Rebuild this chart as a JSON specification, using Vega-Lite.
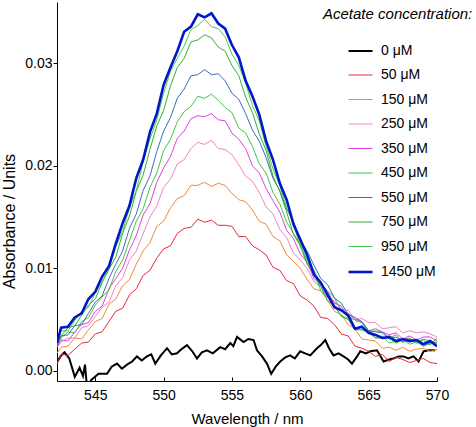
{
"$schema":"https://vega.github.io/schema/vega-lite/v6.json",
"width":380,"height":379,
"autosize":{"type":"none"},
"padding":{"left":57,"top":2,"right":39,"bottom":46},
"background":"white",
"config":{"view":{"stroke":null},"font":"Liberation Sans",
"axis":{"domainColor":"black","tickColor":"black","labelColor":"black","titleColor":"black","labelFont":"Liberation Sans","titleFont":"Liberation Sans","grid":false,"titleFontWeight":"normal"},
"legend":{"titleFont":"Liberation Sans","labelFont":"Liberation Sans","titleColor":"black","labelColor":"black"}},
"datasets":{"spectra":[
{"w":542.2,"s":"0 μM","v":0.0008},{"w":542.45,"s":"0 μM","v":0.0014},{"w":542.75,"s":"0 μM","v":0.0018},{"w":543.1,"s":"0 μM","v":0.0012},{"w":543.5,"s":"0 μM","v":-0.0006},{"w":543.85,"s":"0 μM","v":0.0003},{"w":544.1,"s":"0 μM","v":-0.0005},{"w":544.25,"s":"0 μM","v":0.0006},{"w":544.45,"s":"0 μM","v":-0.0025},{"w":544.7,"s":"0 μM","v":-0.0009},{"w":545.24,"s":"0 μM","v":-0.0003},{"w":545.86,"s":"0 μM","v":-0.0003},{"w":546.2,"s":"0 μM","v":0.0004},{"w":546.59,"s":"0 μM","v":0.0007},{"w":546.95,"s":"0 μM","v":0.0002},{"w":547.32,"s":"0 μM","v":0.0006},{"w":547.7,"s":"0 μM","v":0.0009},{"w":548.05,"s":"0 μM","v":0.0014},{"w":548.4,"s":"0 μM","v":0.001},{"w":548.78,"s":"0 μM","v":0.0014},{"w":549.1,"s":"0 μM","v":0.0016},{"w":549.39,"s":"0 μM","v":0.0007},{"w":549.8,"s":"0 μM","v":0.0015},{"w":550.25,"s":"0 μM","v":0.0022},{"w":550.6,"s":"0 μM","v":0.0016},{"w":550.98,"s":"0 μM","v":0.0017},{"w":551.3,"s":"0 μM","v":0.0021},{"w":551.71,"s":"0 μM","v":0.0025},{"w":552.1,"s":"0 μM","v":0.0019},{"w":552.44,"s":"0 μM","v":0.0012},{"w":552.8,"s":"0 μM","v":0.0018},{"w":553.17,"s":"0 μM","v":0.002},{"w":553.6,"s":"0 μM","v":0.0017},{"w":554.14,"s":"0 μM","v":0.0023},{"w":554.5,"s":"0 μM","v":0.0021},{"w":554.88,"s":"0 μM","v":0.0027},{"w":555.1,"s":"0 μM","v":0.0024},{"w":555.37,"s":"0 μM","v":0.0033},{"w":555.85,"s":"0 μM","v":0.0028},{"w":556.2,"s":"0 μM","v":0.0031},{"w":556.58,"s":"0 μM","v":0.003},{"w":556.83,"s":"0 μM","v":0.002},{"w":557.2,"s":"0 μM","v":0.0014},{"w":557.56,"s":"0 μM","v":0.0007},{"w":557.87,"s":"0 μM","v":-0.0003},{"w":558.2,"s":"0 μM","v":0.0004},{"w":558.53,"s":"0 μM","v":0.0009},{"w":558.9,"s":"0 μM","v":0.0013},{"w":559.26,"s":"0 μM","v":0.0015},{"w":559.6,"s":"0 μM","v":0.0012},{"w":559.99,"s":"0 μM","v":0.0019},{"w":560.35,"s":"0 μM","v":0.0017},{"w":560.73,"s":"0 μM","v":0.0015},{"w":561.22,"s":"0 μM","v":0.0022},{"w":561.5,"s":"0 μM","v":0.0025},{"w":561.83,"s":"0 μM","v":0.003},{"w":562.1,"s":"0 μM","v":0.0022},{"w":562.43,"s":"0 μM","v":0.0015},{"w":562.8,"s":"0 μM","v":0.0017},{"w":563.16,"s":"0 μM","v":0.0014},{"w":563.5,"s":"0 μM","v":0.0011},{"w":563.78,"s":"0 μM","v":0.0007},{"w":564.1,"s":"0 μM","v":0.0013},{"w":564.39,"s":"0 μM","v":0.0019},{"w":564.8,"s":"0 μM","v":0.0017},{"w":565.12,"s":"0 μM","v":0.0019},{"w":565.61,"s":"0 μM","v":0.002},{"w":566.09,"s":"0 μM","v":0.0009},{"w":566.5,"s":"0 μM","v":0.0011},{"w":566.82,"s":"0 μM","v":0.0012},{"w":567.2,"s":"0 μM","v":0.0014},{"w":567.56,"s":"0 μM","v":0.0014},{"w":567.9,"s":"0 μM","v":0.0012},{"w":568.28,"s":"0 μM","v":0.0014},{"w":568.65,"s":"0 μM","v":0.0009},{"w":569.02,"s":"0 μM","v":0.0019},{"w":569.38,"s":"0 μM","v":0.002},{"w":569.87,"s":"0 μM","v":0.002},
{"w":542.2,"s":"50 μM","v":0.0007},{"w":542.5,"s":"50 μM","v":0.0016},{"w":543,"s":"50 μM","v":0.0015},{"w":543.5,"s":"50 μM","v":0.0021},{"w":544,"s":"50 μM","v":0.0027},{"w":544.5,"s":"50 μM","v":0.0028},{"w":545,"s":"50 μM","v":0.0036},{"w":545.5,"s":"50 μM","v":0.0038},{"w":546,"s":"50 μM","v":0.0048},{"w":546.5,"s":"50 μM","v":0.0058},{"w":547,"s":"50 μM","v":0.0061},{"w":547.5,"s":"50 μM","v":0.0074},{"w":548,"s":"50 μM","v":0.008},{"w":548.5,"s":"50 μM","v":0.0093},{"w":549,"s":"50 μM","v":0.0098},{"w":549.5,"s":"50 μM","v":0.011},{"w":550,"s":"50 μM","v":0.0119},{"w":550.5,"s":"50 μM","v":0.0122},{"w":551,"s":"50 μM","v":0.0134},{"w":551.5,"s":"50 μM","v":0.0139},{"w":552,"s":"50 μM","v":0.014},{"w":552.5,"s":"50 μM","v":0.0148},{"w":553,"s":"50 μM","v":0.0145},{"w":553.5,"s":"50 μM","v":0.0147},{"w":554,"s":"50 μM","v":0.0142},{"w":554.5,"s":"50 μM","v":0.0142},{"w":555,"s":"50 μM","v":0.0141},{"w":555.5,"s":"50 μM","v":0.0131},{"w":556,"s":"50 μM","v":0.0131},{"w":556.5,"s":"50 μM","v":0.0122},{"w":557,"s":"50 μM","v":0.0118},{"w":557.5,"s":"50 μM","v":0.0113},{"w":558,"s":"50 μM","v":0.0101},{"w":558.5,"s":"50 μM","v":0.0098},{"w":559,"s":"50 μM","v":0.0088},{"w":559.5,"s":"50 μM","v":0.0085},{"w":560,"s":"50 μM","v":0.0073},{"w":560.5,"s":"50 μM","v":0.0069},{"w":561,"s":"50 μM","v":0.0063},{"w":561.5,"s":"50 μM","v":0.0052},{"w":562,"s":"50 μM","v":0.0051},{"w":562.5,"s":"50 μM","v":0.0045},{"w":563,"s":"50 μM","v":0.0036},{"w":563.5,"s":"50 μM","v":0.0034},{"w":564,"s":"50 μM","v":0.0024},{"w":564.5,"s":"50 μM","v":0.0022},{"w":565,"s":"50 μM","v":0.0019},{"w":565.5,"s":"50 μM","v":0.0014},{"w":566,"s":"50 μM","v":0.0016},{"w":566.5,"s":"50 μM","v":0.0009},{"w":567,"s":"50 μM","v":0.0013},{"w":567.5,"s":"50 μM","v":0.0011},{"w":568,"s":"50 μM","v":0.0008},{"w":568.5,"s":"50 μM","v":0.001},{"w":569,"s":"50 μM","v":0.0012},{"w":569.5,"s":"50 μM","v":0.0008},{"w":570,"s":"50 μM","v":0.0007},
{"w":542.2,"s":"150 μM","v":0.0017},{"w":542.5,"s":"150 μM","v":0.0023},{"w":543,"s":"150 μM","v":0.0024},{"w":543.5,"s":"150 μM","v":0.0032},{"w":544,"s":"150 μM","v":0.0031},{"w":544.5,"s":"150 μM","v":0.004},{"w":545,"s":"150 μM","v":0.0048},{"w":545.5,"s":"150 μM","v":0.0051},{"w":546,"s":"150 μM","v":0.0065},{"w":546.5,"s":"150 μM","v":0.007},{"w":547,"s":"150 μM","v":0.0083},{"w":547.5,"s":"150 μM","v":0.0089},{"w":548,"s":"150 μM","v":0.0104},{"w":548.5,"s":"150 μM","v":0.0117},{"w":549,"s":"150 μM","v":0.0125},{"w":549.5,"s":"150 μM","v":0.0141},{"w":550,"s":"150 μM","v":0.0146},{"w":550.5,"s":"150 μM","v":0.0159},{"w":551,"s":"150 μM","v":0.0168},{"w":551.5,"s":"150 μM","v":0.0171},{"w":552,"s":"150 μM","v":0.0181},{"w":552.5,"s":"150 μM","v":0.0181},{"w":553,"s":"150 μM","v":0.0184},{"w":553.5,"s":"150 μM","v":0.018},{"w":554,"s":"150 μM","v":0.0183},{"w":554.5,"s":"150 μM","v":0.0181},{"w":555,"s":"150 μM","v":0.0173},{"w":555.5,"s":"150 μM","v":0.0167},{"w":556,"s":"150 μM","v":0.0165},{"w":556.5,"s":"150 μM","v":0.0157},{"w":557,"s":"150 μM","v":0.0146},{"w":557.5,"s":"150 μM","v":0.0143},{"w":558,"s":"150 μM","v":0.0131},{"w":558.5,"s":"150 μM","v":0.0127},{"w":559,"s":"150 μM","v":0.0113},{"w":559.5,"s":"150 μM","v":0.0107},{"w":560,"s":"150 μM","v":0.01},{"w":560.5,"s":"150 μM","v":0.0089},{"w":561,"s":"150 μM","v":0.008},{"w":561.5,"s":"150 μM","v":0.0078},{"w":562,"s":"150 μM","v":0.0069},{"w":562.5,"s":"150 μM","v":0.0058},{"w":563,"s":"150 μM","v":0.0055},{"w":563.5,"s":"150 μM","v":0.0045},{"w":564,"s":"150 μM","v":0.0041},{"w":564.5,"s":"150 μM","v":0.0031},{"w":565,"s":"150 μM","v":0.003},{"w":565.5,"s":"150 μM","v":0.0029},{"w":566,"s":"150 μM","v":0.0022},{"w":566.5,"s":"150 μM","v":0.0023},{"w":567,"s":"150 μM","v":0.002},{"w":567.5,"s":"150 μM","v":0.0023},{"w":568,"s":"150 μM","v":0.0019},{"w":568.5,"s":"150 μM","v":0.0021},{"w":569,"s":"150 μM","v":0.0022},{"w":569.5,"s":"150 μM","v":0.0019},{"w":570,"s":"150 μM","v":0.0021},
{"w":542.2,"s":"250 μM","v":0.0023},{"w":542.5,"s":"250 μM","v":0.0028},{"w":543,"s":"250 μM","v":0.0032},{"w":543.5,"s":"250 μM","v":0.0032},{"w":544,"s":"250 μM","v":0.0042},{"w":544.5,"s":"250 μM","v":0.0044},{"w":545,"s":"250 μM","v":0.0053},{"w":545.5,"s":"250 μM","v":0.0062},{"w":546,"s":"250 μM","v":0.0067},{"w":546.5,"s":"250 μM","v":0.0083},{"w":547,"s":"250 μM","v":0.0091},{"w":547.5,"s":"250 μM","v":0.0108},{"w":548,"s":"250 μM","v":0.0117},{"w":548.5,"s":"250 μM","v":0.0134},{"w":549,"s":"250 μM","v":0.015},{"w":549.5,"s":"250 μM","v":0.0161},{"w":550,"s":"250 μM","v":0.0179},{"w":550.5,"s":"250 μM","v":0.0187},{"w":551,"s":"250 μM","v":0.0202},{"w":551.5,"s":"250 μM","v":0.0206},{"w":552,"s":"250 μM","v":0.0217},{"w":552.5,"s":"250 μM","v":0.0223},{"w":553,"s":"250 μM","v":0.0221},{"w":553.5,"s":"250 μM","v":0.0225},{"w":554,"s":"250 μM","v":0.0217},{"w":554.5,"s":"250 μM","v":0.0216},{"w":555,"s":"250 μM","v":0.0211},{"w":555.5,"s":"250 μM","v":0.0201},{"w":556,"s":"250 μM","v":0.019},{"w":556.5,"s":"250 μM","v":0.0185},{"w":557,"s":"250 μM","v":0.0174},{"w":557.5,"s":"250 μM","v":0.016},{"w":558,"s":"250 μM","v":0.0153},{"w":558.5,"s":"250 μM","v":0.0138},{"w":559,"s":"250 μM","v":0.013},{"w":559.5,"s":"250 μM","v":0.0115},{"w":560,"s":"250 μM","v":0.0108},{"w":560.5,"s":"250 μM","v":0.01},{"w":561,"s":"250 μM","v":0.0087},{"w":561.5,"s":"250 μM","v":0.0082},{"w":562,"s":"250 μM","v":0.0071},{"w":562.5,"s":"250 μM","v":0.0068},{"w":563,"s":"250 μM","v":0.006},{"w":563.5,"s":"250 μM","v":0.0059},{"w":564,"s":"250 μM","v":0.005},{"w":564.5,"s":"250 μM","v":0.0051},{"w":565,"s":"250 μM","v":0.0047},{"w":565.5,"s":"250 μM","v":0.0047},{"w":566,"s":"250 μM","v":0.0041},{"w":566.5,"s":"250 μM","v":0.0042},{"w":567,"s":"250 μM","v":0.0043},{"w":567.5,"s":"250 μM","v":0.0037},{"w":568,"s":"250 μM","v":0.0039},{"w":568.5,"s":"250 μM","v":0.0037},{"w":569,"s":"250 μM","v":0.0038},{"w":569.5,"s":"250 μM","v":0.0036},{"w":570,"s":"250 μM","v":0.0033},
{"w":542.2,"s":"350 μM","v":0.0023},{"w":542.5,"s":"350 μM","v":0.003},{"w":543,"s":"350 μM","v":0.0029},{"w":543.5,"s":"350 μM","v":0.0038},{"w":544,"s":"350 μM","v":0.0045},{"w":544.5,"s":"350 μM","v":0.0047},{"w":545,"s":"350 μM","v":0.0058},{"w":545.5,"s":"350 μM","v":0.0063},{"w":546,"s":"350 μM","v":0.008},{"w":546.5,"s":"350 μM","v":0.009},{"w":547,"s":"350 μM","v":0.01},{"w":547.5,"s":"350 μM","v":0.0118},{"w":548,"s":"350 μM","v":0.0132},{"w":548.5,"s":"350 μM","v":0.0152},{"w":549,"s":"350 μM","v":0.0163},{"w":549.5,"s":"350 μM","v":0.0184},{"w":550,"s":"350 μM","v":0.0198},{"w":550.5,"s":"350 μM","v":0.0209},{"w":551,"s":"350 μM","v":0.0227},{"w":551.5,"s":"350 μM","v":0.0234},{"w":552,"s":"350 μM","v":0.0246},{"w":552.5,"s":"350 μM","v":0.0249},{"w":553,"s":"350 μM","v":0.0248},{"w":553.5,"s":"350 μM","v":0.0251},{"w":554,"s":"350 μM","v":0.0245},{"w":554.5,"s":"350 μM","v":0.0244},{"w":555,"s":"350 μM","v":0.0232},{"w":555.5,"s":"350 μM","v":0.0226},{"w":556,"s":"350 μM","v":0.0217},{"w":556.5,"s":"350 μM","v":0.02},{"w":557,"s":"350 μM","v":0.0193},{"w":557.5,"s":"350 μM","v":0.0178},{"w":558,"s":"350 μM","v":0.0166},{"w":558.5,"s":"350 μM","v":0.0155},{"w":559,"s":"350 μM","v":0.0137},{"w":559.5,"s":"350 μM","v":0.0129},{"w":560,"s":"350 μM","v":0.0114},{"w":560.5,"s":"350 μM","v":0.0106},{"w":561,"s":"350 μM","v":0.009},{"w":561.5,"s":"350 μM","v":0.0084},{"w":562,"s":"350 μM","v":0.0077},{"w":562.5,"s":"350 μM","v":0.0066},{"w":563,"s":"350 μM","v":0.0063},{"w":563.5,"s":"350 μM","v":0.0052},{"w":564,"s":"350 μM","v":0.005},{"w":564.5,"s":"350 μM","v":0.0048},{"w":565,"s":"350 μM","v":0.0039},{"w":565.5,"s":"350 μM","v":0.0041},{"w":566,"s":"350 μM","v":0.0038},{"w":566.5,"s":"350 μM","v":0.0035},{"w":567,"s":"350 μM","v":0.0037},{"w":567.5,"s":"350 μM","v":0.0031},{"w":568,"s":"350 μM","v":0.0034},{"w":568.5,"s":"350 μM","v":0.003},{"w":569,"s":"350 μM","v":0.0033},{"w":569.5,"s":"350 μM","v":0.0033},{"w":570,"s":"350 μM","v":0.0029},
{"w":542.2,"s":"450 μM","v":0.0025},{"w":542.5,"s":"450 μM","v":0.0032},{"w":543,"s":"450 μM","v":0.0038},{"w":543.5,"s":"450 μM","v":0.0037},{"w":544,"s":"450 μM","v":0.0048},{"w":544.5,"s":"450 μM","v":0.0052},{"w":545,"s":"450 μM","v":0.0064},{"w":545.5,"s":"450 μM","v":0.0072},{"w":546,"s":"450 μM","v":0.0079},{"w":546.5,"s":"450 μM","v":0.0097},{"w":547,"s":"450 μM","v":0.0108},{"w":547.5,"s":"450 μM","v":0.0127},{"w":548,"s":"450 μM","v":0.0146},{"w":548.5,"s":"450 μM","v":0.0158},{"w":549,"s":"450 μM","v":0.0179},{"w":549.5,"s":"450 μM","v":0.0193},{"w":550,"s":"450 μM","v":0.0215},{"w":550.5,"s":"450 μM","v":0.0226},{"w":551,"s":"450 μM","v":0.0243},{"w":551.5,"s":"450 μM","v":0.0253},{"w":552,"s":"450 μM","v":0.0258},{"w":552.5,"s":"450 μM","v":0.0268},{"w":553,"s":"450 μM","v":0.0266},{"w":553.5,"s":"450 μM","v":0.027},{"w":554,"s":"450 μM","v":0.0264},{"w":554.5,"s":"450 μM","v":0.0257},{"w":555,"s":"450 μM","v":0.0252},{"w":555.5,"s":"450 μM","v":0.0237},{"w":556,"s":"450 μM","v":0.0232},{"w":556.5,"s":"450 μM","v":0.0219},{"w":557,"s":"450 μM","v":0.0202},{"w":557.5,"s":"450 μM","v":0.0193},{"w":558,"s":"450 μM","v":0.0174},{"w":558.5,"s":"450 μM","v":0.0163},{"w":559,"s":"450 μM","v":0.0145},{"w":559.5,"s":"450 μM","v":0.0134},{"w":560,"s":"450 μM","v":0.0124},{"w":560.5,"s":"450 μM","v":0.0106},{"w":561,"s":"450 μM","v":0.0098},{"w":561.5,"s":"450 μM","v":0.0085},{"w":562,"s":"450 μM","v":0.0078},{"w":562.5,"s":"450 μM","v":0.0071},{"w":563,"s":"450 μM","v":0.0059},{"w":563.5,"s":"450 μM","v":0.0056},{"w":564,"s":"450 μM","v":0.0049},{"w":564.5,"s":"450 μM","v":0.0047},{"w":565,"s":"450 μM","v":0.0038},{"w":565.5,"s":"450 μM","v":0.0039},{"w":566,"s":"450 μM","v":0.0038},{"w":566.5,"s":"450 μM","v":0.0032},{"w":567,"s":"450 μM","v":0.0035},{"w":567.5,"s":"450 μM","v":0.0028},{"w":568,"s":"450 μM","v":0.0031},{"w":568.5,"s":"450 μM","v":0.0028},{"w":569,"s":"450 μM","v":0.0031},{"w":569.5,"s":"450 μM","v":0.0029},{"w":570,"s":"450 μM","v":0.0027},
{"w":542.2,"s":"550 μM","v":0.0025},{"w":542.5,"s":"550 μM","v":0.0034},{"w":543,"s":"550 μM","v":0.0035},{"w":543.5,"s":"550 μM","v":0.0044},{"w":544,"s":"550 μM","v":0.0045},{"w":544.5,"s":"550 μM","v":0.0056},{"w":545,"s":"550 μM","v":0.0067},{"w":545.5,"s":"550 μM","v":0.0073},{"w":546,"s":"550 μM","v":0.009},{"w":546.5,"s":"550 μM","v":0.0104},{"w":547,"s":"550 μM","v":0.0117},{"w":547.5,"s":"550 μM","v":0.0139},{"w":548,"s":"550 μM","v":0.0153},{"w":548.5,"s":"550 μM","v":0.0176},{"w":549,"s":"550 μM","v":0.019},{"w":549.5,"s":"550 μM","v":0.0214},{"w":550,"s":"550 μM","v":0.0234},{"w":550.5,"s":"550 μM","v":0.0247},{"w":551,"s":"550 μM","v":0.0266},{"w":551.5,"s":"550 μM","v":0.0275},{"w":552,"s":"550 μM","v":0.0288},{"w":552.5,"s":"550 μM","v":0.0289},{"w":553,"s":"550 μM","v":0.0294},{"w":553.5,"s":"550 μM","v":0.0289},{"w":554,"s":"550 μM","v":0.029},{"w":554.5,"s":"550 μM","v":0.0283},{"w":555,"s":"550 μM","v":0.0271},{"w":555.5,"s":"550 μM","v":0.0265},{"w":556,"s":"550 μM","v":0.0251},{"w":556.5,"s":"550 μM","v":0.0235},{"w":557,"s":"550 μM","v":0.0224},{"w":557.5,"s":"550 μM","v":0.0208},{"w":558,"s":"550 μM","v":0.0188},{"w":558.5,"s":"550 μM","v":0.0176},{"w":559,"s":"550 μM","v":0.0158},{"w":559.5,"s":"550 μM","v":0.0146},{"w":560,"s":"550 μM","v":0.0127},{"w":560.5,"s":"550 μM","v":0.0117},{"w":561,"s":"550 μM","v":0.0103},{"w":561.5,"s":"550 μM","v":0.009},{"w":562,"s":"550 μM","v":0.0084},{"w":562.5,"s":"550 μM","v":0.0071},{"w":563,"s":"550 μM","v":0.0066},{"w":563.5,"s":"550 μM","v":0.0055},{"w":564,"s":"550 μM","v":0.0052},{"w":564.5,"s":"550 μM","v":0.0048},{"w":565,"s":"550 μM","v":0.0039},{"w":565.5,"s":"550 μM","v":0.0038},{"w":566,"s":"550 μM","v":0.0037},{"w":566.5,"s":"550 μM","v":0.0031},{"w":567,"s":"550 μM","v":0.0033},{"w":567.5,"s":"550 μM","v":0.0028},{"w":568,"s":"550 μM","v":0.003},{"w":568.5,"s":"550 μM","v":0.003},{"w":569,"s":"550 μM","v":0.0024},{"w":569.5,"s":"550 μM","v":0.0027},{"w":570,"s":"550 μM","v":0.0028},
{"w":542.2,"s":"750 μM","v":0.0027},{"w":542.5,"s":"750 μM","v":0.0034},{"w":543,"s":"750 μM","v":0.0042},{"w":543.5,"s":"750 μM","v":0.0044},{"w":544,"s":"750 μM","v":0.0054},{"w":544.5,"s":"750 μM","v":0.0064},{"w":545,"s":"750 μM","v":0.007},{"w":545.5,"s":"750 μM","v":0.0086},{"w":546,"s":"750 μM","v":0.0099},{"w":546.5,"s":"750 μM","v":0.0111},{"w":547,"s":"750 μM","v":0.0134},{"w":547.5,"s":"750 μM","v":0.0151},{"w":548,"s":"750 μM","v":0.0175},{"w":548.5,"s":"750 μM","v":0.0191},{"w":549,"s":"750 μM","v":0.0216},{"w":549.5,"s":"750 μM","v":0.0239},{"w":550,"s":"750 μM","v":0.0254},{"w":550.5,"s":"750 μM","v":0.0278},{"w":551,"s":"750 μM","v":0.0296},{"w":551.5,"s":"750 μM","v":0.0305},{"w":552,"s":"750 μM","v":0.0321},{"w":552.5,"s":"750 μM","v":0.0323},{"w":553,"s":"750 μM","v":0.0328},{"w":553.5,"s":"750 μM","v":0.0325},{"w":554,"s":"750 μM","v":0.0316},{"w":554.5,"s":"750 μM","v":0.0312},{"w":555,"s":"750 μM","v":0.0298},{"w":555.5,"s":"750 μM","v":0.0288},{"w":556,"s":"750 μM","v":0.0267},{"w":556.5,"s":"750 μM","v":0.0252},{"w":557,"s":"750 μM","v":0.0231},{"w":557.5,"s":"750 μM","v":0.0215},{"w":558,"s":"750 μM","v":0.019},{"w":558.5,"s":"750 μM","v":0.0175},{"w":559,"s":"750 μM","v":0.0155},{"w":559.5,"s":"750 μM","v":0.0133},{"w":560,"s":"750 μM","v":0.0122},{"w":560.5,"s":"750 μM","v":0.0104},{"w":561,"s":"750 μM","v":0.0094},{"w":561.5,"s":"750 μM","v":0.0082},{"w":562,"s":"750 μM","v":0.0068},{"w":562.5,"s":"750 μM","v":0.0064},{"w":563,"s":"750 μM","v":0.0053},{"w":563.5,"s":"750 μM","v":0.005},{"w":564,"s":"750 μM","v":0.004},{"w":564.5,"s":"750 μM","v":0.004},{"w":565,"s":"750 μM","v":0.0039},{"w":565.5,"s":"750 μM","v":0.0032},{"w":566,"s":"750 μM","v":0.0032},{"w":566.5,"s":"750 μM","v":0.0032},{"w":567,"s":"750 μM","v":0.0027},{"w":567.5,"s":"750 μM","v":0.003},{"w":568,"s":"750 μM","v":0.0032},{"w":568.5,"s":"750 μM","v":0.0027},{"w":569,"s":"750 μM","v":0.003},{"w":569.5,"s":"750 μM","v":0.0025},{"w":570,"s":"750 μM","v":0.0032},
{"w":542.2,"s":"950 μM","v":0.0027},{"w":542.5,"s":"950 μM","v":0.0039},{"w":543,"s":"950 μM","v":0.0039},{"w":543.5,"s":"950 μM","v":0.0049},{"w":544,"s":"950 μM","v":0.0058},{"w":544.5,"s":"950 μM","v":0.0062},{"w":545,"s":"950 μM","v":0.0076},{"w":545.5,"s":"950 μM","v":0.0087},{"w":546,"s":"950 μM","v":0.01},{"w":546.5,"s":"950 μM","v":0.0121},{"w":547,"s":"950 μM","v":0.0136},{"w":547.5,"s":"950 μM","v":0.0159},{"w":548,"s":"950 μM","v":0.0176},{"w":548.5,"s":"950 μM","v":0.0204},{"w":549,"s":"950 μM","v":0.0226},{"w":549.5,"s":"950 μM","v":0.0245},{"w":550,"s":"950 μM","v":0.0271},{"w":550.5,"s":"950 μM","v":0.0292},{"w":551,"s":"950 μM","v":0.0305},{"w":551.5,"s":"950 μM","v":0.0317},{"w":552,"s":"950 μM","v":0.0333},{"w":552.5,"s":"950 μM","v":0.0337},{"w":553,"s":"950 μM","v":0.0343},{"w":553.5,"s":"950 μM","v":0.0336},{"w":554,"s":"950 μM","v":0.0334},{"w":554.5,"s":"950 μM","v":0.0326},{"w":555,"s":"950 μM","v":0.0309},{"w":555.5,"s":"950 μM","v":0.0298},{"w":556,"s":"950 μM","v":0.0281},{"w":556.5,"s":"950 μM","v":0.0259},{"w":557,"s":"950 μM","v":0.0244},{"w":557.5,"s":"950 μM","v":0.0219},{"w":558,"s":"950 μM","v":0.0197},{"w":558.5,"s":"950 μM","v":0.0181},{"w":559,"s":"950 μM","v":0.0159},{"w":559.5,"s":"950 μM","v":0.0144},{"w":560,"s":"950 μM","v":0.0121},{"w":560.5,"s":"950 μM","v":0.0109},{"w":561,"s":"950 μM","v":0.0096},{"w":561.5,"s":"950 μM","v":0.0078},{"w":562,"s":"950 μM","v":0.0072},{"w":562.5,"s":"950 μM","v":0.0063},{"w":563,"s":"950 μM","v":0.0054},{"w":563.5,"s":"950 μM","v":0.0051},{"w":564,"s":"950 μM","v":0.0041},{"w":564.5,"s":"950 μM","v":0.004},{"w":565,"s":"950 μM","v":0.0037},{"w":565.5,"s":"950 μM","v":0.0032},{"w":566,"s":"950 μM","v":0.0034},{"w":566.5,"s":"950 μM","v":0.0027},{"w":567,"s":"950 μM","v":0.0029},{"w":567.5,"s":"950 μM","v":0.003},{"w":568,"s":"950 μM","v":0.0026},{"w":568.5,"s":"950 μM","v":0.0028},{"w":569,"s":"950 μM","v":0.0024},{"w":569.5,"s":"950 μM","v":0.0029},{"w":570,"s":"950 μM","v":0.0027},
{"w":542.2,"s":"1450 μM","v":0.0027},{"w":542.5,"s":"1450 μM","v":0.0042},{"w":543,"s":"1450 μM","v":0.0043},{"w":543.5,"s":"1450 μM","v":0.0052},{"w":544,"s":"1450 μM","v":0.0056},{"w":544.5,"s":"1450 μM","v":0.007},{"w":545,"s":"1450 μM","v":0.0077},{"w":545.5,"s":"1450 μM","v":0.0092},{"w":546,"s":"1450 μM","v":0.0102},{"w":546.5,"s":"1450 μM","v":0.0124},{"w":547,"s":"1450 μM","v":0.0144},{"w":547.5,"s":"1450 μM","v":0.0161},{"w":548,"s":"1450 μM","v":0.0188},{"w":548.5,"s":"1450 μM","v":0.0206},{"w":549,"s":"1450 μM","v":0.0233},{"w":549.5,"s":"1450 μM","v":0.0251},{"w":550,"s":"1450 μM","v":0.0279},{"w":550.5,"s":"1450 μM","v":0.0296},{"w":551,"s":"1450 μM","v":0.0312},{"w":551.5,"s":"1450 μM","v":0.0331},{"w":552,"s":"1450 μM","v":0.0336},{"w":552.5,"s":"1450 μM","v":0.0348},{"w":553,"s":"1450 μM","v":0.0345},{"w":553.5,"s":"1450 μM","v":0.0349},{"w":554,"s":"1450 μM","v":0.0339},{"w":554.5,"s":"1450 μM","v":0.0334},{"w":555,"s":"1450 μM","v":0.0318},{"w":555.5,"s":"1450 μM","v":0.0306},{"w":556,"s":"1450 μM","v":0.0283},{"w":556.5,"s":"1450 μM","v":0.0268},{"w":557,"s":"1450 μM","v":0.025},{"w":557.5,"s":"1450 μM","v":0.0224},{"w":558,"s":"1450 μM","v":0.0206},{"w":558.5,"s":"1450 μM","v":0.0183},{"w":559,"s":"1450 μM","v":0.0167},{"w":559.5,"s":"1450 μM","v":0.0143},{"w":560,"s":"1450 μM","v":0.0128},{"w":560.5,"s":"1450 μM","v":0.0113},{"w":561,"s":"1450 μM","v":0.0094},{"w":561.5,"s":"1450 μM","v":0.0086},{"w":562,"s":"1450 μM","v":0.0074},{"w":562.5,"s":"1450 μM","v":0.0062},{"w":563,"s":"1450 μM","v":0.0059},{"w":563.5,"s":"1450 μM","v":0.0054},{"w":564,"s":"1450 μM","v":0.0041},{"w":564.5,"s":"1450 μM","v":0.0043},{"w":565,"s":"1450 μM","v":0.0037},{"w":565.5,"s":"1450 μM","v":0.0035},{"w":566,"s":"1450 μM","v":0.0032},{"w":566.5,"s":"1450 μM","v":0.0033},{"w":567,"s":"1450 μM","v":0.0029},{"w":567.5,"s":"1450 μM","v":0.0031},{"w":568,"s":"1450 μM","v":0.0029},{"w":568.5,"s":"1450 μM","v":0.003},{"w":569,"s":"1450 μM","v":0.0026},{"w":569.5,"s":"1450 μM","v":0.0029},{"w":570,"s":"1450 μM","v":0.0024}
]},
"encoding":{
"x":{"field":"w","type":"quantitative","scale":{"domain":[542.2,570],"nice":false,"zero":false},
"axis":{"title":"Wavelength / nm","values":[545,550,555,560,565,570],"tickSize":-4,"labelPadding":11,"labelFlush":false,"labelFontSize":14,"titleFontSize":15,"titleY":30,"titleBaseline":"top"}},
"y":{"field":"v","type":"quantitative","scale":{"domain":[-0.001,0.036],"nice":false,"zero":false},
"axis":{"title":"Absorbance / Units","values":[0,0.01,0.02,0.03],"format":".2f","tickSize":4,"labelPadding":1,"labelFontSize":14,"titleFontSize":16,"titleX":-40,"titleY":219,"titleAlign":"center","titleBaseline":"bottom"}},
"color":{"field":"s","type":"nominal",
"scale":{"domain":["0 μM","50 μM","150 μM","250 μM","350 μM","450 μM","550 μM","750 μM","950 μM","1450 μM"],
"range":["#000000","#e8283c","#f08a3c","#f282c8","#e040e0","#44c444","#3c6cb8","#34b034","#4cc84c","#0018c8"]},
"legend":{"title":"Acetate concentration:","orient":"none","legendX":266,"legendY":5,"titleFontStyle":"italic","titleFontWeight":"normal","titleFontSize":15,"titlePadding":16,"labelFontSize":14,"symbolType":"stroke","symbolSize":576,"symbolOffset":24,"rowPadding":4.5,"labelOffset":7,"padding":0}},
"strokeWidth":{"field":"s","type":"nominal",
"scale":{"type":"ordinal","domain":["0 μM","50 μM","150 μM","250 μM","350 μM","450 μM","550 μM","750 μM","950 μM","1450 μM"],
"range":[2,1,1,1,1,1,1,1,1,2.6]},
"legend":{"title":"Acetate concentration:","orient":"none","legendX":266,"legendY":5,"titleFontStyle":"italic","titleFontWeight":"normal","titleFontSize":15,"titlePadding":16,"labelFontSize":14,"symbolType":"stroke","symbolSize":576,"symbolOffset":24,"rowPadding":4.5,"labelOffset":7,"padding":0}}
},
"layer":[
{"data":{"name":"spectra"},"transform":[{"filter":{"field":"s","equal":"0 μM"}}],"mark":{"type":"line","clip":true}},
{"data":{"name":"spectra"},"transform":[{"filter":{"field":"s","oneOf":["50 μM","150 μM","250 μM","350 μM","450 μM","550 μM","750 μM","950 μM"]}}],"mark":{"type":"line","clip":true}},
{"data":{"name":"spectra"},"transform":[{"filter":{"field":"s","equal":"1450 μM"}}],"mark":{"type":"line","clip":true}}
]
}
